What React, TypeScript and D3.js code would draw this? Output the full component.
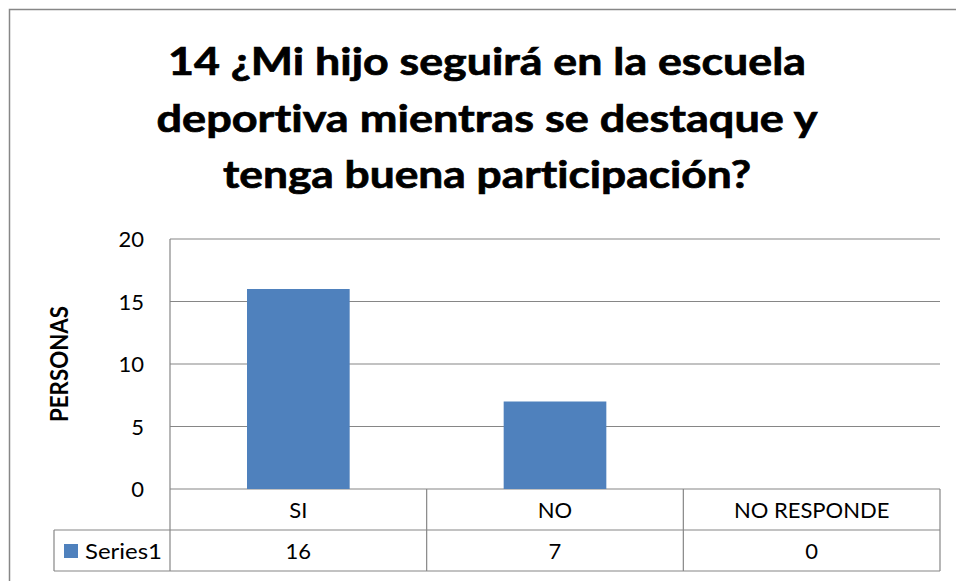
import React, { useEffect } from "react";
import * as d3 from "d3";

const titleLines = [
  "14 ¿Mi hijo seguirá en la escuela",
  "deportiva mientras se destaque y",
  "tenga buena participación?",
];
const categories = ["SI", "NO", "NO RESPONDE"];
const seriesName = "Series1";
const values = [16, 7, 0];
const yTicks = [0, 5, 10, 15, 20];
const yTitle = "PERSONAS";

const W = 956;
const H = 581;
const FONT = "Lato, 'Open Sans', sans-serif";
const GRID = "#868686";
const BAR = "#4F81BD";
const noLig = { fontVariantLigatures: "none" as const };

export default function App() {
  useEffect(() => {
    document.body.style.margin = "0";
  }, []);

  const left = 170;
  const right = 940;
  const top = 239;
  const bottom = 489;
  const row1 = 530;
  const row2 = 571;
  const legendLeft = 54;

  const x = d3
    .scaleBand<string>()
    .domain(categories)
    .range([left, right])
    .paddingInner(0.6)
    .paddingOuter(0.3);
  const y = d3.scaleLinear().domain([0, 20]).range([bottom, top]);
  const step = x.step();
  const bounds = categories.map((_, i) => left + i * step);
  bounds.push(right);

  const titleWidths = [638, 661, 528];
  const titleBase = [75, 132, 188];

  return (
    <svg width={W} height={H} style={{ display: "block" }}>
      <rect x={0} y={0} width={W} height={H} fill="#fff" />
      <rect x={9.5} y={9.5} width={W + 20} height={H + 20} fill="none" stroke="#878787" strokeWidth={1.5} />
      {titleLines.map((t, i) => (
        <text
          key={i}
          x={487}
          y={titleBase[i]}
          textAnchor="middle"
          fontFamily={FONT}
          fontWeight="bold"
          fontSize={38}
          textLength={titleWidths[i]}
          lengthAdjust="spacingAndGlyphs"
          fill="#000"
          stroke="#000"
          strokeWidth={0.7}
          style={noLig}
        >
          {t}
        </text>
      ))}
      {yTicks.map((t) => (
        <g key={t}>
          <line x1={left} x2={right} y1={y(t)} y2={y(t)} stroke={GRID} strokeWidth={1.2} />
          <text x={144} y={y(t) + 8} textAnchor="end" fontFamily={FONT} fontSize={22} fill="#000">
            {t}
          </text>
        </g>
      ))}
      <text
        transform={`translate(68,364) rotate(-90)`}
        textAnchor="middle"
        fontFamily={FONT}
        fontWeight="bold"
        fontSize={24}
        textLength={116}
        lengthAdjust="spacingAndGlyphs"
        fill="#000"
      >
        {yTitle}
      </text>
      {categories.map((c, i) => (
        <rect
          key={c}
          x={x(c)!}
          y={y(values[i])}
          width={x.bandwidth()}
          height={y(0) - y(values[i])}
          fill={BAR}
        />
      ))}
      {/* data table */}
      <line x1={left} x2={left} y1={top} y2={row2} stroke={GRID} strokeWidth={1.2} />
      {bounds.slice(1).map((b, i) => (
        <line key={i} x1={b} x2={b} y1={bottom} y2={row2} stroke={GRID} strokeWidth={1.2} />
      ))}
      <line x1={legendLeft} x2={right} y1={row1} y2={row1} stroke={GRID} strokeWidth={1.2} />
      <line x1={legendLeft} x2={right} y1={row2} y2={row2} stroke={GRID} strokeWidth={1.2} />
      <line x1={legendLeft} x2={legendLeft} y1={row1} y2={row2} stroke={GRID} strokeWidth={1.2} />
      {categories.map((c, i) => (
        <g key={c}>
          <text
            x={(bounds[i] + bounds[i + 1]) / 2}
            y={518}
            textAnchor="middle"
            fontFamily={FONT}
            fontSize={22}
            fill="#000"
          >
            {c}
          </text>
          <text
            x={(bounds[i] + bounds[i + 1]) / 2}
            y={559}
            textAnchor="middle"
            fontFamily={FONT}
            fontSize={22}
            fill="#000"
          >
            {values[i]}
          </text>
        </g>
      ))}
      <rect x={64} y={544} width={14} height={14} fill={BAR} />
      <text x={85} y={559} fontFamily={FONT} fontSize={22} textLength={77} lengthAdjust="spacingAndGlyphs" fill="#000">
        {seriesName}
      </text>
    </svg>
  );
}
